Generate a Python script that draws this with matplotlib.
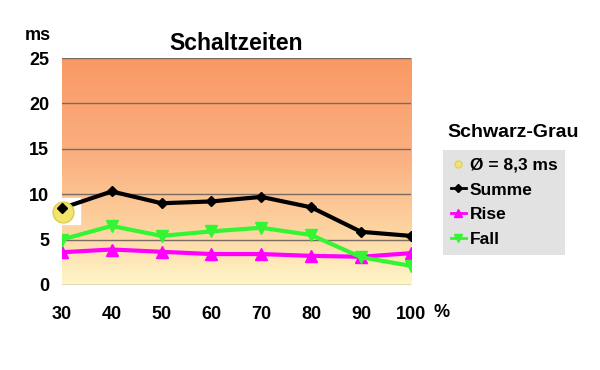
import numpy as np
import matplotlib
matplotlib.use("Agg")
import matplotlib.pyplot as plt
from matplotlib.colors import LinearSegmentedColormap
from matplotlib.lines import Line2D

plt.rcParams["font.family"] = ["Liberation Sans", "DejaVu Sans"]

# data
helligkeit = [30, 40, 50, 60, 70, 80, 90, 100]
summe = [8.45, 10.3, 9.0, 9.2, 9.7, 8.55, 5.85, 5.4]
rise = [3.6, 3.9, 3.65, 3.4, 3.4, 3.2, 3.1, 3.5]
fall = [5.0, 6.5, 5.4, 5.9, 6.3, 5.5, 3.05, 2.1]
avg_x, avg_y = 30, 8.2
avg_label = "Ø = 8,3 ms"
yticks = [0, 5, 10, 15, 20, 25]

BLACK, MAG, GRN = "#000000", "#ff00ff", "#33f533"

fig = plt.figure(figsize=(6, 3.7), dpi=100)
ax = fig.add_axes([0.103, 0.23, 0.582, 0.613])

# gradient background, pale yellow at 0 to orange at 25
cmap = LinearSegmentedColormap.from_list(
    "bg", [(0, "#fff6c8"), (0.25, "#fdd3a0"), (0.55, "#fbb182"), (1, "#f99964")])
grad = np.linspace(0, 1, 256).reshape(-1, 1)
ax.imshow(grad, cmap=cmap, origin="lower", aspect="auto",
          extent=[30, 100, 0, 25], zorder=0)

for t in yticks:
    ax.axhline(t, color="#7a6a60", lw=1.0, zorder=1)

ax.plot(helligkeit, summe, color=BLACK, lw=3, marker="D", ms=5, zorder=4)
ax.plot(helligkeit, rise, color=MAG, lw=3, marker="^", ms=8, zorder=3)
ax.plot(helligkeit, fall, color=GRN, lw=3, marker="v", ms=8, zorder=3)
# average marker on a white square
ax.plot(avg_x + 1.0, avg_y, "s", ms=19, color="white", zorder=3.5, clip_on=False)
ax.plot(avg_x + 0.3, avg_y - 0.15, "o", ms=15, mfc="#f3e56c", mec="#d9cc55",
        zorder=5, clip_on=False)
ax.plot(avg_x, summe[0], "D", ms=5, color=BLACK, zorder=6, clip_on=False)

ax.set_xlim(30, 100)
ax.set_ylim(0, 25)
ax.set_xticks(helligkeit)
ax.set_yticks(yticks)
ax.tick_params(length=0, labelsize=13)
ax.tick_params(axis="x", pad=15)
ax.tick_params(axis="y", pad=9)
for lab in ax.get_xticklabels() + ax.get_yticklabels():
    lab.set_fontweight("bold")
for s in ax.spines.values():
    s.set_visible(False)

ax.set_title("Schaltzeiten", fontsize=16.5, fontweight="bold", pad=6)
fig.text(0.042, 0.893, "ms", fontsize=13, fontweight="bold", ha="left")
fig.text(0.723, 0.142, "%", fontsize=13, fontweight="bold", ha="left")

handles = [
    Line2D([], [], ls="", marker="o", ms=5, mfc="#f3e56c", mec="#e0d060"),
    Line2D([], [], color=BLACK, lw=2, marker="D", ms=4),
    Line2D([], [], color=MAG, lw=2, marker="^", ms=6),
    Line2D([], [], color=GRN, lw=2, marker="v", ms=6),
]
labels = [avg_label, "Summe", "Rise", "Fall"]
leg = fig.legend(handles, labels, loc="upper left", bbox_to_anchor=(0.738, 0.595),
                 borderaxespad=0, frameon=True, fancybox=False, handlelength=0.9,
                 handletextpad=0.2, labelspacing=0.55, borderpad=0.45,
                 prop={"size": 12.5, "weight": "bold"})
leg.get_frame().set_facecolor("#e2e2e2")
leg.get_frame().set_edgecolor("none")
leg.get_frame().set_alpha(1)
fig.text(0.746, 0.63, "Schwarz-Grau", fontsize=14, fontweight="bold", ha="left")

fig.savefig("out.png", dpi=100, facecolor="white")
